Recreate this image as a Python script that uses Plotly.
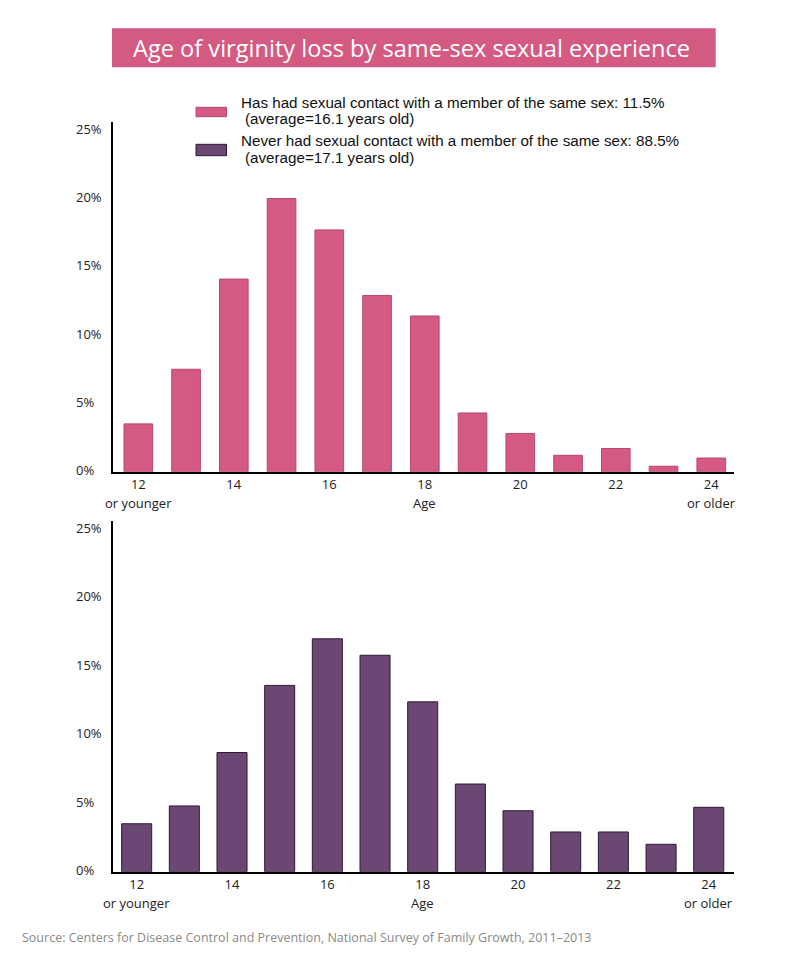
import plotly.graph_objects as go

# ---- data ----
ages = [12, 13, 14, 15, 16, 17, 18, 19, 20, 21, 22, 23, 24]
same_sex_pct = [3.5, 7.5, 14.1, 20.0, 17.7, 12.9, 11.4, 4.3, 2.8, 1.2, 1.7, 0.4, 1.0]
never_pct = [3.5, 4.8, 8.7, 13.6, 17.0, 15.8, 12.4, 6.4, 4.45, 2.9, 2.9, 2.0, 4.7]
x_tickvals = [12, 14, 16, 18, 20, 22, 24]
x_ticktext = ["12", "14", "16", "18", "20", "22", "24"]
y_tickvals = [0, 5, 10, 15, 20, 25]
y_ticktext = ["0%", "5%", "10%", "15%", "20%", "25%"]
sub_labels = [(12, "or younger"), (18, "Age"), (24, "or older")]

title_text = "Age of virginity loss by same-sex sexual experience"
legend_lines = [
    ["Has had sexual contact with a member of the same sex: 11.5%", "(average=16.1 years old)"],
    ["Never had sexual contact with a member of the same sex: 88.5%", "(average=17.1 years old)"],
]
source_text = "Source: Centers for Disease Control and Prevention, National Survey of Family Growth, 2011–2013"

PINK = "#D55A82"
PINK_EDGE = "#B6476E"
PURPLE = "#6B4874"
PURPLE_EDGE = "#2E1A33"

# page body has an 8px margin; size the figure so it fits the window exactly
OFF = 8
W, H = 784, 941
def px(x):
    return (x - OFF) / W
def py(y):
    return 1 - (y - OFF) / H

fig = go.Figure()
fig.add_trace(go.Bar(x=ages, y=same_sex_pct, width=0.6, marker=dict(color=PINK, line=dict(color=PINK_EDGE, width=1)),
                     xaxis="x", yaxis="y", showlegend=False, hoverinfo="skip"))
fig.add_trace(go.Bar(x=ages, y=never_pct, width=0.63, marker=dict(color=PURPLE, line=dict(color=PURPLE_EDGE, width=1)),
                     xaxis="x2", yaxis="y2", showlegend=False, hoverinfo="skip"))

tick_font = dict(family="Open Sans", size=13, color="#222")
xcommon = dict(tickmode="array", tickvals=x_tickvals, ticktext=x_ticktext, showline=True, linecolor="black",
               linewidth=2, showgrid=False, zeroline=False, ticks="", tickfont=tick_font, fixedrange=True)
ycommon = dict(tickmode="array", tickvals=y_tickvals, showticklabels=False, showline=True, linecolor="black",
               linewidth=2, showgrid=False, zeroline=False, ticks="", range=[0, 25.6], fixedrange=True)

fig.update_layout(
    width=W, height=H, margin=dict(l=0, r=0, t=0, b=0),
    paper_bgcolor="white", plot_bgcolor="white",
    xaxis=dict(domain=[px(113.3), px(734)], range=[11.476, 24.476], anchor="y", **xcommon),
    yaxis=dict(domain=[py(471.7), py(122)], anchor="x", **ycommon),
    xaxis2=dict(domain=[px(113.3), px(734)], range=[11.51, 24.53], anchor="y2", **xcommon),
    yaxis2=dict(domain=[py(871.7), py(521)], anchor="x2", **ycommon),
)

shapes = []
annotations = []
# title box
shapes.append(dict(type="rect", xref="paper", yref="paper", x0=px(112), x1=px(715.7), y0=py(67.3), y1=py(28.3),
                   fillcolor=PINK, line=dict(width=0), layer="below"))
annotations.append(dict(text=title_text, xref="paper", yref="paper", x=px(412), y=py(48), xanchor="center",
                        yanchor="middle", showarrow=False, font=dict(family="Open Sans", size=23.6, color="white")))
# legend
sw = [(PINK, PINK_EDGE, 107.3, 116.7, 102.3, 119.0), (PURPLE, PURPLE_EDGE, 144.3, 155.7, 140.4, 157.1)]
leg_font = dict(family="Liberation Sans, Arial", size=15.2, color="#111")
for (fc, ec, s0, s1, l1, l2), lines in zip(sw, legend_lines):
    shapes.append(dict(type="rect", xref="paper", yref="paper", x0=px(196), x1=px(226.5), y0=py(s1), y1=py(s0),
                       fillcolor=fc, line=dict(color=ec, width=1)))
    annotations.append(dict(text=lines[0], xref="paper", yref="paper", x=px(239.3), y=py(l1), xanchor="left",
                            yanchor="middle", showarrow=False, font=leg_font))
    annotations.append(dict(text=lines[1], xref="paper", yref="paper", x=px(242.7), y=py(l2), xanchor="left",
                            yanchor="middle", showarrow=False, font=leg_font))
# y tick labels (left-aligned, as in the original)
for yr in ("y", "y2"):
    for v, t in zip(y_tickvals, y_ticktext):
        annotations.append(dict(text=t, xref="paper", yref=yr, x=px(74), y=v, xanchor="left", yanchor="middle",
                                yshift=1.5, showarrow=False, font=tick_font))
# second-line x labels
for xr, yr in (("x", "y domain"), ("x2", "y2 domain")):
    for xv, t in sub_labels:
        annotations.append(dict(text=t, xref=xr, yref=yr, x=xv, y=0, yanchor="middle", xanchor="center",
                                yshift=-31.6, showarrow=False, font=tick_font))
# source
annotations.append(dict(text=source_text, xref="paper", yref="paper", x=px(20), y=py(937.3), xanchor="left",
                        yanchor="middle", showarrow=False, font=dict(family="Open Sans", size=12.5, color="#8a8a8a")))

fig.update_layout(shapes=shapes, annotations=annotations)
fig.write_html("out.html")
